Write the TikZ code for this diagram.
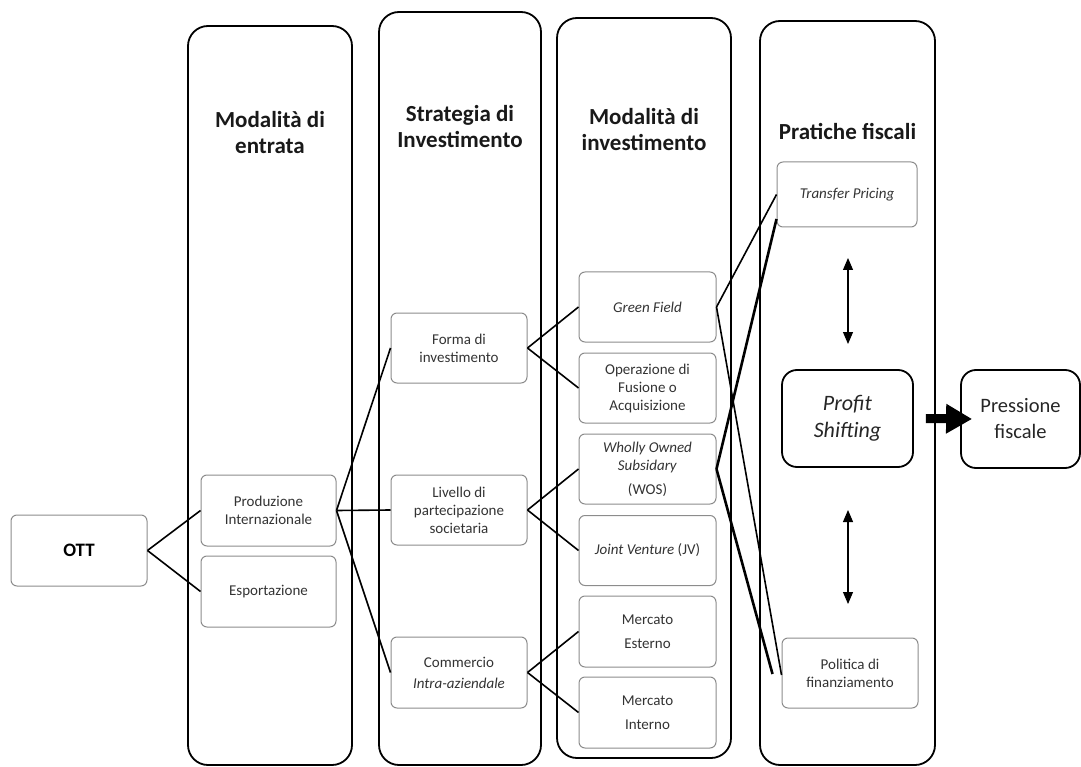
\documentclass[tikz,border=0pt]{standalone}
\usepackage{fontspec}
\setmainfont{Carlito}
\usetikzlibrary{arrows.meta}
\begin{document}
\begin{tikzpicture}[x=1pt,y=-1pt,
  col/.style={draw=black, line width=1.8pt, rounded corners=20pt, inner sep=0pt},
  sbox/.style={draw=black!45, line width=1pt, rounded corners=6pt, minimum width=136pt, minimum height=70pt, inner sep=2pt, align=center, text=black!80, font=\fontsize{15}{18}\selectfont},
  bbox/.style={draw=black, line width=1.8pt, rounded corners=15pt, align=center, text=black!85, font=\fontsize{22}{27}\selectfont, inner sep=0pt},
  head/.style={align=center, font=\fontsize{23}{26}\selectfont\bfseries, text=black!90},
  conn/.style={line width=1.6pt, draw=black},
  heavyconn/.style={line width=2.6pt, draw=black},
  dbl/.style={line width=1.1pt, {Triangle[length=12pt,width=10pt]}-{Triangle[length=12pt,width=10pt]}},
  bigarrow/.style={line width=9pt, -{Triangle[length=26pt,width=28pt]}}
]
\useasboundingbox (0,0) rectangle (1081,767);

% columns
\node[col, minimum width=164pt, minimum height=739pt] (c1) at (270,395.5) {};
\node[col, minimum width=162pt, minimum height=753pt] (c2) at (460,388.5) {};
\node[col, minimum width=174pt, minimum height=740pt] (c3) at (644,388) {};
\node[col, minimum width=175pt, minimum height=744pt] (c4) at (847.5,393) {};

% headers
\node[head] (h1) at (270,133) {Modalità di\\entrata};
\node[head] (h2) at (460,127) {Strategia di\\Investimento};
\node[head] (h3) at (644,130) {Modalità di\\investimento};
\node[head] (h4) at (847.5,132) {Pratiche fiscali};

% boxes
\node[sbox, minimum height=71pt, font=\fontsize{19}{22}\selectfont\bfseries, text=black] (ott) at (79,550.5) {OTT};
\node[sbox, minimum width=135pt, minimum height=71pt] (prod) at (268.5,510.5) {Produzione\\Internazionale};
\node[sbox, minimum width=135pt, minimum height=71pt] (esp) at (268.5,591.5) {Esportazione};

\node[sbox] (forma) at (459,348) {Forma di\\investimento};
\node[sbox] (liv) at (459,510) {Livello di\\partecipazione\\societaria};
\node[sbox, minimum height=71pt] (comm) at (459,672.5) {Commercio\\[3pt]\textit{Intra-aziendale}};

\node[sbox, minimum width=137pt] (gf) at (647.5,307) {\textit{Green Field}};
\node[sbox, minimum width=137pt] (op) at (647.5,388) {Operazione di\\Fusione o\\Acquisizione};
\node[sbox, minimum width=137pt] (wos) at (647.5,469) {\textit{Wholly Owned}\\\textit{Subsidary}\\[6pt](WOS)};
\node[sbox, minimum width=137pt] (jv) at (647.5,550.5) {\textit{Joint Venture} (JV)};
\node[sbox, minimum width=137pt, minimum height=71pt] (me) at (647.5,631.5) {Mercato\\[6pt]Esterno};
\node[sbox, minimum width=137pt, minimum height=71pt] (mi) at (647.5,712.5) {Mercato\\[6pt]Interno};

\node[sbox, minimum width=140pt, minimum height=65pt] (tp) at (847,194.5) {\textit{Transfer Pricing}};
\node[sbox] (pol) at (850,673) {Politica di\\finanziamento};

\node[bbox, minimum width=131pt, minimum height=97pt] (ps) at (847.5,418.5) {\textit{Profit}\\\textit{Shifting}};
\node[bbox, minimum width=119pt, minimum height=98pt, font=\fontsize{20.5}{26}\selectfont] (pf) at (1020.5,419) {Pressione\\fiscale};

% connectors
\draw[conn] (ott.east) -- (prod.west);
\draw[conn] (ott.east) -- (esp.west);
\draw[conn] (prod.east) -- (forma.west);
\draw[conn] (prod.east) -- (liv.west);
\draw[conn] (prod.east) -- (comm.west);
\draw[conn] (forma.east) -- (gf.west);
\draw[conn] (forma.east) -- (op.west);
\draw[conn] (liv.east) -- (wos.west);
\draw[conn] (liv.east) -- (jv.west);
\draw[conn] (comm.east) -- (me.west);
\draw[conn] (comm.east) -- (mi.west);
\draw[conn] (gf.east) -- (tp.west);
\draw[conn] (gf.east) -- ([yshift=-2pt]pol.west);
\draw[heavyconn] (wos.east) -- ([yshift=-24.5pt]tp.west);
\draw[heavyconn] (wos.east) -- ([xshift=-9pt,yshift=-1pt]pol.west);

% double arrows
\coordinate (u1) at (848,258);
\coordinate (u2) at (848,344);
\coordinate (d1) at (848,510);
\coordinate (d2) at (848,604);
\draw[dbl] (u1) -- (u2);
\draw[dbl] (d1) -- (d2);

% thick arrow
\draw[bigarrow] ([xshift=12pt]ps.east) -- ([xshift=12pt]pf.west);
\end{tikzpicture}
\end{document}
